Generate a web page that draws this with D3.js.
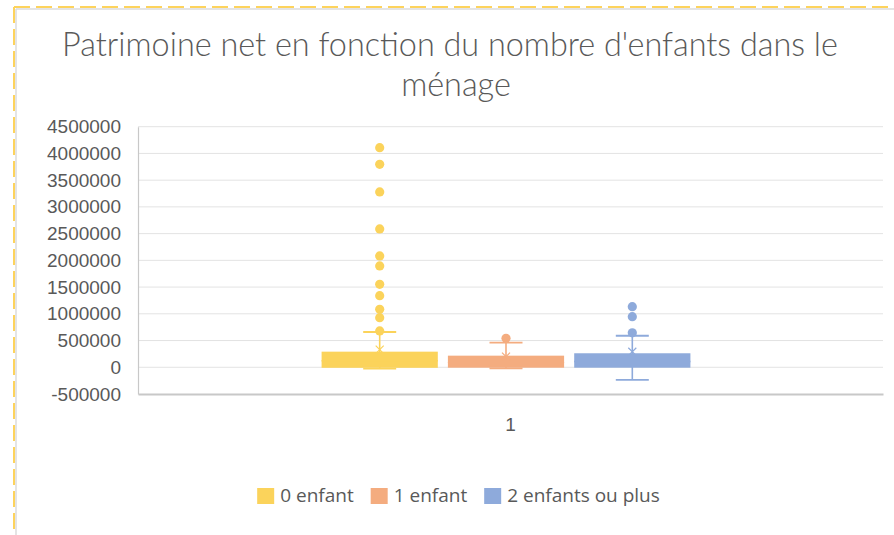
<!DOCTYPE html>
<html>
<head>
<meta charset="utf-8">
<script src="https://cdn.jsdelivr.net/npm/d3@7"></script>
<style>
    body { margin: 0; background: #fff; }
    svg { display: block; font-family: "Open Sans", "Noto Sans", sans-serif; }
</style>
</head>
<body>
<svg id="chart" width="894" height="535"></svg>
<script>
'use strict'

// values
const categories = ['1']
const series = ['0 enfant', '1 enfant', '2 enfants ou plus']
const colors = ['#fbd35b', '#f4ac7f', '#8eaadb']
const lowWhisker = [-25000, -20000, -237000]
const q1 = [-10000, -8000, -8000]
const medians = [120000, 90000, 110000]
const q3 = [292000, 217000, 262000]
const highWhisker = [660000, 460000, 590000]
const means = [330000, 200000, 290000]
const outliers = [
    [4107000, 3797000, 3279000, 2587000, 2082000, 1895000, 1552000, 1339000, 1085000, 928000, 679000],
    [542000],
    [1133000, 946000, 645000]
]
const yTicks = [-500000, 0, 500000, 1000000, 1500000, 2000000, 2500000, 3000000, 3500000, 4000000, 4500000]
const titleLines = ["Patrimoine net en fonction du nombre d'enfants dans le", 'ménage']

const svg = d3.select('#chart')
const width = 894, height = 535
const plot = { left: 138, right: 883, top: 126.7, bottom: 394 }
const labelSize = 19

// frame of the screenshot
svg.append('path')
    .attr('d', `M16,9H${width}M16,9V${height}`)
    .attr('fill', 'none').attr('stroke', '#dcdcdc').attr('stroke-width', 1.5)
svg.append('path')
    .attr('d', `M14,7H${width}M14,7V${height}`)
    .attr('fill', 'none').attr('stroke', '#fdd35c').attr('stroke-width', 2)
    .attr('stroke-dasharray', '16,6')

// title, scaled so the first line fills the measured width
let title = svg.append('g').attr('fill', '#595959').attr('text-anchor', 'middle')
    .style('font-family', 'Lato, "Open Sans", sans-serif').style('font-weight', 300)
let t1 = title.append('text').attr('x', 450).attr('y', 56).attr('font-size', 30).text(titleLines[0])
let fs = 30 * 776 / t1.node().getComputedTextLength()
t1.attr('font-size', fs)
title.append('text').attr('x', 456).attr('y', 96).attr('font-size', fs).text(titleLines[1])

let y = d3.scaleLinear().domain([-500000, 4500000]).range([plot.bottom, plot.top])
let x = d3.scaleBand().domain(categories).range([plot.left, plot.right])
let groupW = x.bandwidth() / 2.02
let groupC = x('1') + x.bandwidth() / 2 - 4.5
let xs = d3.scaleBand().domain(series).paddingInner(0.08)
    .range([groupC - groupW / 2, groupC + groupW / 2])

// gridlines
svg.append('g').selectAll('line').data(yTicks.slice(1)).enter().append('line')
    .attr('x1', plot.left).attr('x2', plot.right)
    .attr('y1', d => y(d)).attr('y2', d => y(d))
    .attr('stroke', '#e3e3e3').attr('stroke-width', 1)

// axes
let yAxis = svg.append('g').attr('transform', `translate(${plot.left},0)`)
    .call(d3.axisLeft(y).tickValues(yTicks).tickSize(0).tickPadding(17).tickFormat(d => String(d)))
yAxis.select('.domain').attr('stroke', '#c8c8c8').attr('stroke-width', 1.2)
yAxis.selectAll('text').attr('fill', '#595959').attr('font-size', labelSize).style('font-family', null)

let xAxis = svg.append('g').attr('transform', `translate(0,${plot.bottom})`)
    .call(d3.axisBottom(x).tickSize(0).tickPadding(24))
xAxis.select('.domain').attr('stroke', '#c8c8c8').attr('stroke-width', 2)
xAxis.selectAll('text').attr('fill', '#595959').attr('font-size', labelSize).style('font-family', null)

// boxes
let boxes = svg.append('g').selectAll('g').data(series).enter().append('g')

boxes.each(function (s, i) {
    let g = d3.select(this), cx = xs(s) + xs.bandwidth() / 2, c = colors[i], cap = 16.5

    g.append('line').attr('x1', cx).attr('x2', cx)
        .attr('y1', y(highWhisker[i])).attr('y2', y(lowWhisker[i]))
        .attr('stroke', c).attr('stroke-width', 1.6)
    g.selectAll('.cap').data([highWhisker[i], lowWhisker[i]]).enter().append('line')
        .attr('x1', cx - cap).attr('x2', cx + cap)
        .attr('y1', d => y(d)).attr('y2', d => y(d))
        .attr('stroke', c).attr('stroke-width', 1.8)

    g.append('rect')
        .attr('x', xs(s)).attr('width', xs.bandwidth())
        .attr('y', y(q3[i])).attr('height', y(q1[i]) - y(q3[i]))
        .attr('fill', c)
    g.append('line').attr('x1', xs(s)).attr('x2', xs(s) + xs.bandwidth())
        .attr('y1', y(medians[i])).attr('y2', y(medians[i]))
        .attr('stroke', c).attr('stroke-width', 1.5)

    let my = y(means[i])
    g.append('path')
        .attr('d', `M${cx - 4},${my - 4}L${cx + 4},${my + 4}M${cx - 4},${my + 4}L${cx + 4},${my - 4}`)
        .attr('stroke', c).attr('stroke-width', 1.2).attr('fill', 'none')

    g.selectAll('circle').data(outliers[i]).enter().append('circle')
        .attr('cx', cx).attr('cy', d => y(d)).attr('r', 4.6)
        .attr('fill', c)
})

// legend
let legend = svg.append('g').attr('font-size', labelSize).attr('fill', '#595959')
let items = legend.selectAll('g').data(series).enter().append('g')
items.append('rect').attr('width', 17).attr('height', 16).attr('y', -13).attr('fill', (d, i) => colors[i])
items.append('text').attr('x', 23).attr('y', 0).attr('dy', '0.05em').text(d => d)

let pos = 0, offsets = []
items.each(function () {
    offsets.push(pos)
    pos += 23 + d3.select(this).select('text').node().getComputedTextLength() + 17
})
let startX = 458.5 - (pos - 17) / 2
items.attr('transform', (d, i) => `translate(${startX + offsets[i]},501)`)
</script>
</body>
</html>
